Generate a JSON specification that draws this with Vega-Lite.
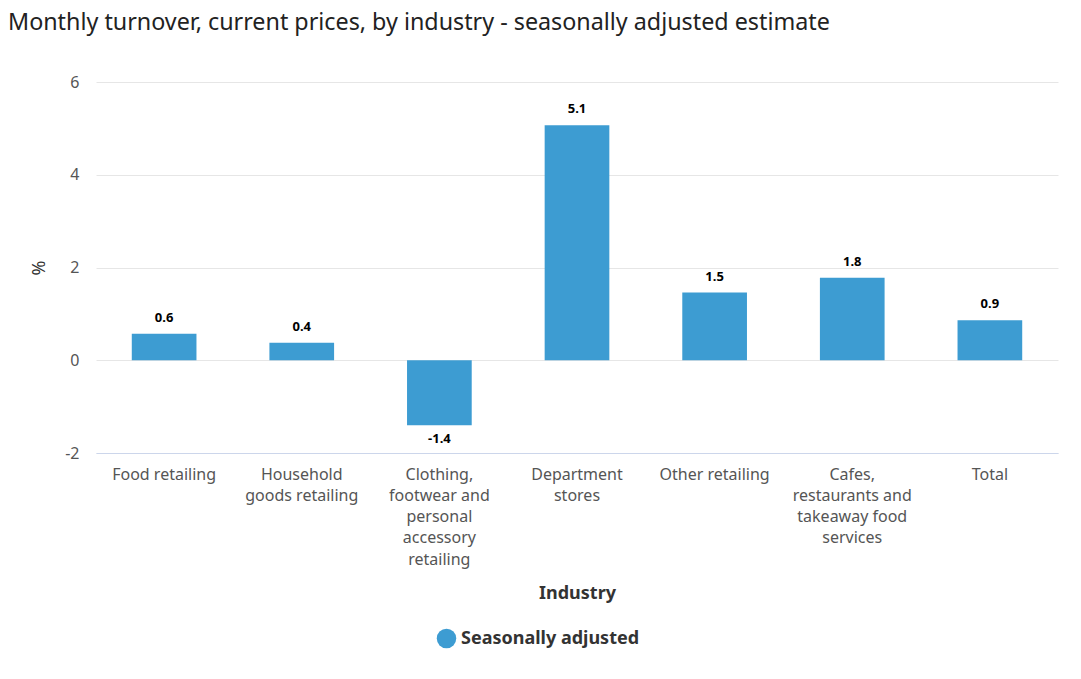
{
  "$schema": "https://vega.github.io/schema/vega-lite/v6.json",
  "autosize": "none",
  "width": 962,
  "height": 371,
  "padding": {"left": 96, "top": 82, "right": 23, "bottom": 226},
  "background": "white",
  "config": {
    "font": "Noto Sans",
    "view": {"stroke": null}
  },
  "title": {
    "text": "Monthly turnover, current prices, by industry - seasonally adjusted estimate",
    "anchor": "start",
    "frame": "group",
    "dx": -88,
    "offset": 39,
    "fontSize": 23.3,
    "fontWeight": "normal",
    "color": "#222222",
    "font": "Noto Sans"
  },
  "data": {
    "values": [
      {"industry": "Food retailing", "value": 0.57, "label": "0.6", "series": "Seasonally adjusted"},
      {"industry": "Household goods retailing", "value": 0.38, "label": "0.4", "series": "Seasonally adjusted"},
      {"industry": "Clothing, footwear and personal accessory retailing", "value": -1.4, "label": "-1.4", "series": "Seasonally adjusted"},
      {"industry": "Department stores", "value": 5.07, "label": "5.1", "series": "Seasonally adjusted"},
      {"industry": "Other retailing", "value": 1.46, "label": "1.5", "series": "Seasonally adjusted"},
      {"industry": "Cafes, restaurants and takeaway food services", "value": 1.78, "label": "1.8", "series": "Seasonally adjusted"},
      {"industry": "Total", "value": 0.86, "label": "0.9", "series": "Seasonally adjusted"}
    ]
  },
  "encoding": {
    "x": {
      "field": "industry",
      "type": "nominal",
      "sort": null,
      "scale": {"paddingInner": 0.53, "paddingOuter": 0.26},
      "title": "Industry",
      "axis": {
        "labelAngle": 0,
        "labelFontSize": 16,
        "labelColor": "#555555",
        "labelPadding": 13,
        "labelLineHeight": 21.3,
        "labelBaseline": "top",
        "ticks": false,
        "domainColor": "#ccd6eb",
        "domainWidth": 1,
        "titleFontSize": 18,
        "titleFontWeight": "bold",
        "titleColor": "#333333",
        "titlePadding": 17,
        "labelExpr": "datum.label == 'Household goods retailing' ? ['Household', 'goods retailing'] : datum.label == 'Clothing, footwear and personal accessory retailing' ? ['Clothing,', 'footwear and', 'personal', 'accessory', 'retailing'] : datum.label == 'Department stores' ? ['Department', 'stores'] : datum.label == 'Cafes, restaurants and takeaway food services' ? ['Cafes,', 'restaurants and', 'takeaway food', 'services'] : datum.label"
      }
    }
  },
  "layer": [
    {
      "mark": {"type": "bar", "color": "#3d9cd2"},
      "encoding": {
        "y": {
          "field": "value",
          "type": "quantitative",
          "scale": {"domain": [-2, 6], "nice": false},
          "title": "%",
          "axis": {
            "values": [-2, 0, 2, 4, 6],
            "labelExpr": "'' + datum.value",
            "labelFontSize": 16,
            "labelColor": "#555555",
            "labelPadding": 17,
            "ticks": false,
            "domain": false,
            "gridColor": "#e6e6e6",
            "titleFontSize": 18,
            "titleFontWeight": "normal",
            "titleColor": "#333333",
            "titlePadding": 16
          }
        },
        "color": {
          "field": "series",
          "type": "nominal",
          "scale": {"range": ["#3d9cd2"]},
          "legend": {
            "title": null,
            "orient": "none",
            "legendX": 340,
            "legendY": 546,
            "symbolType": "circle",
            "symbolSize": 380,
            "labelFontSize": 18,
            "labelFontWeight": "bold",
            "labelColor": "#333333",
            "labelLimit": 400
          }
        }
      }
    },
    {
      "transform": [{"filter": "datum.value >= 0"}],
      "mark": {"type": "text", "fontSize": 13, "fontWeight": "bold", "color": "#000000", "baseline": "bottom", "dy": -9},
      "encoding": {
        "y": {"field": "value", "type": "quantitative"},
        "text": {"field": "label", "type": "nominal"}
      }
    },
    {
      "transform": [{"filter": "datum.value < 0"}],
      "mark": {"type": "text", "fontSize": 13, "fontWeight": "bold", "color": "#000000", "baseline": "top", "dy": 8},
      "encoding": {
        "y": {"field": "value", "type": "quantitative"},
        "text": {"field": "label", "type": "nominal"}
      }
    }
  ]
}
